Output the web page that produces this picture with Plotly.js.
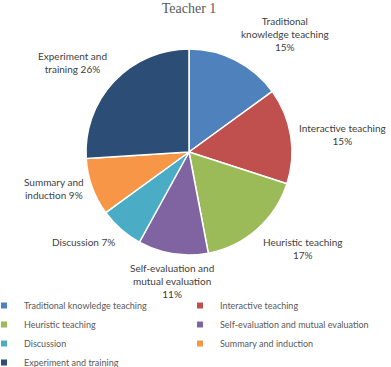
<!DOCTYPE html>
<html><head><meta charset="utf-8">
<script src="https://cdn.plot.ly/plotly-3.0.1.min.js"></script>
<style>html,body{margin:0;padding:0;background:#fff}#chart{width:391px;height:367px}</style>
</head><body><div id="chart"></div>
<script>
const categories = ["Traditional knowledge teaching","Interactive teaching","Heuristic teaching","Self-evaluation and mutual evaluation","Discussion","Summary and induction","Experiment and training"];
const values = [15, 15, 17, 11, 7, 9, 26];
const labelText = ["Traditional<br>knowledge teaching<br>15%","Interactive teaching<br>15%","Heuristic teaching<br>17%","Self-evaluation and<br>mutual evaluation<br>11%","Discussion 7%","Summary and<br>induction 9%","Experiment and<br>training 26%"];
const colors = ["#4F81BD","#C0504D","#9BBB59","#8064A2","#4BACC6","#F79646","#2C4D75"];

const W = 391, H = 367, B = 78, PH = H - B;
// pie placed in pixels: center (189,152), radius 103
const dom = {x: [86/W, 292/W], y: [1-255/PH, 1-49/PH]};
const cx = (dom.x[0]+dom.x[1])/2*W, cy = (1-(dom.y[0]+dom.y[1])/2)*PH;
const r = (dom.x[1]-dom.x[0])*W/2;
const total = values.reduce((a,b)=>a+b,0);

const annotations = [];
let cum = 0;
values.forEach((v,i)=>{
  const mid = (cum + v/2)/total*2*Math.PI; cum += v;
  const s = Math.sin(mid), c = Math.cos(mid);
  const d = r*1.06;
  const px = cx + d*s, py = cy - d*c;
  annotations.push({
    text: labelText[i], showarrow:false, xref:'paper', yref:'paper',
    x: px/W, y: 1-py/PH,
    xanchor: s>0.35?'left':(s<-0.35?'right':'center'),
    yanchor: c>0.35?'bottom':(c<-0.35?'top':'middle'),
    align:'center', font:{family:'Lato, sans-serif', size:10, color:'#404040'}
  });
});

const traces = [{
  type:'pie', labels:categories, values:values, sort:false, direction:'clockwise', rotation:0,
  marker:{colors:colors, line:{color:'#ffffff', width:1.5}},
  textinfo:'none', hoverinfo:'label+percent', showlegend:false, domain:dom
}];
categories.forEach((name,i)=>{
  traces.push({type:'scatter', mode:'markers', x:[null], y:[null], name:name,
    marker:{symbol:'square', size:6, color:colors[i]}, showlegend:true, hoverinfo:'skip'});
});

const layout = {
  width:W, height:H, margin:{l:0,r:0,t:0,b:B, autoexpand:false},
  paper_bgcolor:'#ffffff', plot_bgcolor:'rgba(0,0,0,0)',
  title:{text:'Teacher 1', x:189/W, xanchor:'center', y:1-8/H, yanchor:'middle', yref:'container',
    font:{family:'Liberation Serif, serif', size:14, color:'#595959'}},
  xaxis:{visible:false}, yaxis:{visible:false},
  showlegend:true,
  legend:{orientation:'h', x:-16/W, xanchor:'left', y:1-291/PH, yanchor:'top',
    entrywidth:151, entrywidthmode:'pixels', traceorder:'normal',
    font:{family:'Lato, sans-serif', size:9, color:'#595959'}, bgcolor:'rgba(0,0,0,0)'},
  annotations:annotations
};
Plotly.newPlot('chart', traces, layout, {displayModeBar:false, staticPlot:true});
</script></body></html>
